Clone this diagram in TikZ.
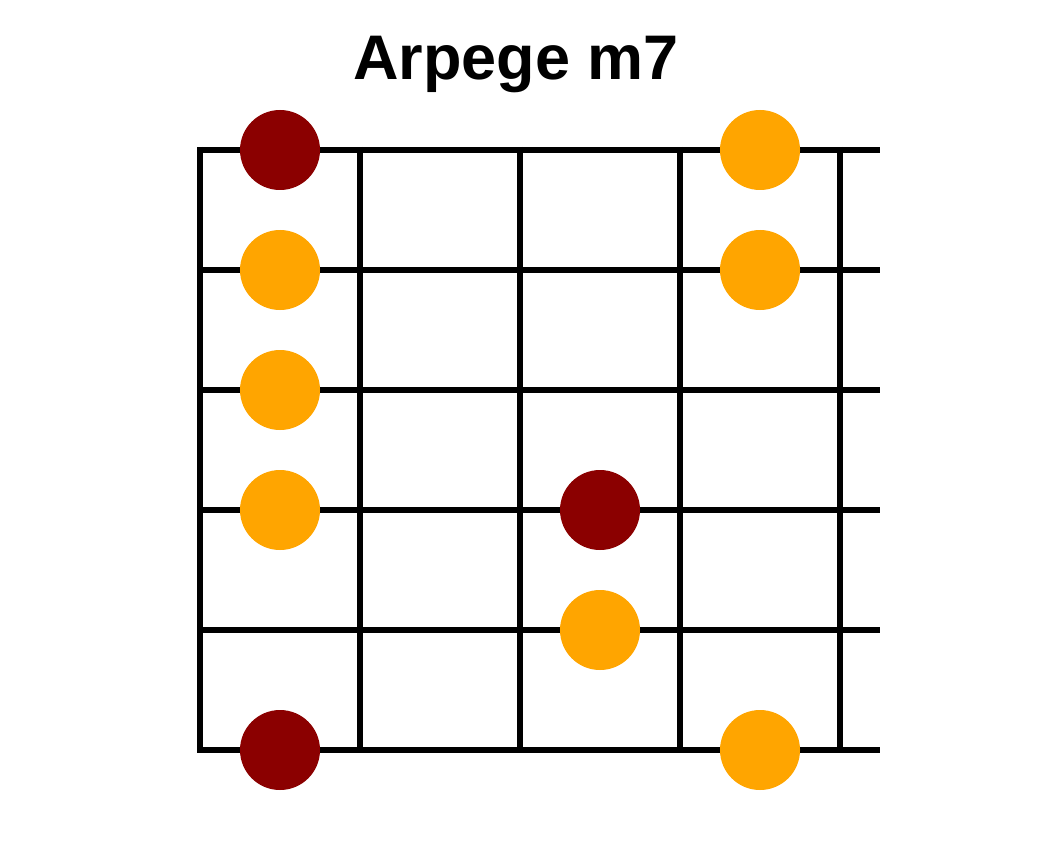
\documentclass[tikz,border=0pt]{standalone}
\usepackage{fontspec}
\setmainfont{Liberation Sans}
\definecolor{rootred}{HTML}{8B0000}
\definecolor{noteorange}{HTML}{FFA500}
\tikzset{
  fretline/.style={line width=6pt, black},
  root/.style={circle, fill=rootred, minimum size=80pt, inner sep=0pt},
  tone/.style={circle, fill=noteorange, minimum size=80pt, inner sep=0pt},
}
\begin{document}
\begin{tikzpicture}[x=1pt,y=-1pt]
\useasboundingbox (0,0) rectangle (1040,850);
\fill[white] (0,0) rectangle (1040,850);
\node[font=\bfseries\fontsize{63}{70}\selectfont, anchor=base] (title) at (516,79.5) {Arpege m7};
% strings
\foreach \y in {150,270,390,510,630,750}
  \draw[fretline] (200,\y) -- (880,\y);
% frets
\foreach \x in {200,360,520,680,840}
  \draw[fretline] (\x,147) -- (\x,753);
% notes
\node[root] (n1) at (280,150) {};
\node[tone] (n2) at (280,270) {};
\node[tone] (n3) at (280,390) {};
\node[tone] (n4) at (280,510) {};
\node[root] (n5) at (280,750) {};
\node[root] (n6) at (600,510) {};
\node[tone] (n7) at (600,630) {};
\node[tone] (n8) at (760,150) {};
\node[tone] (n9) at (760,270) {};
\node[tone] (n10) at (760,750) {};
\end{tikzpicture}
\end{document}
